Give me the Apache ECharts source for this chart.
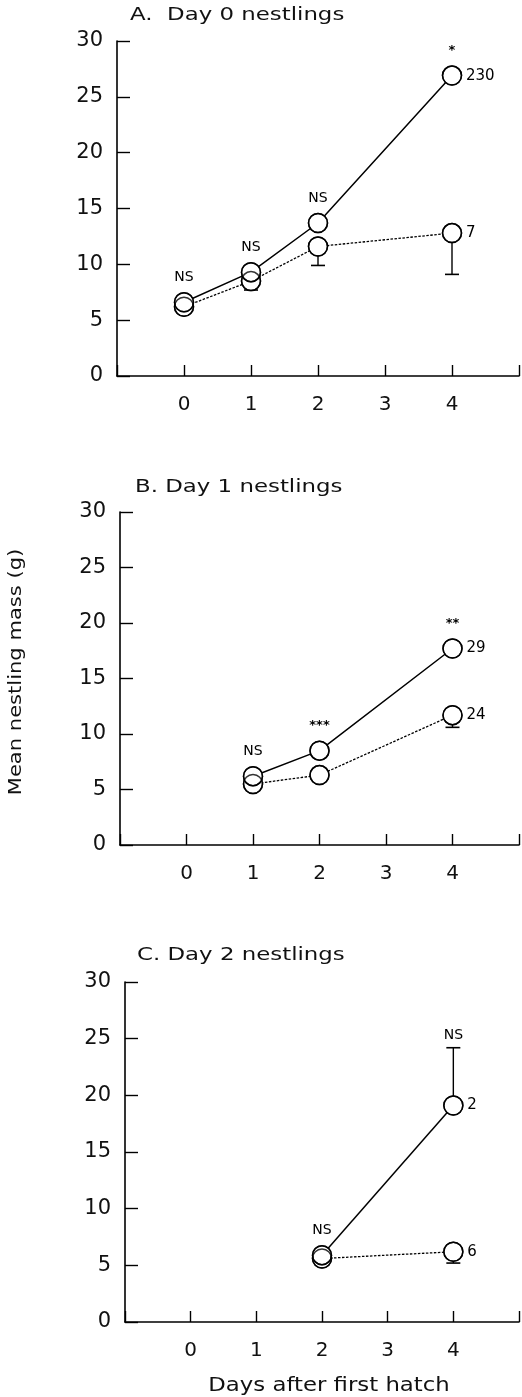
<!DOCTYPE html>
<html>
<head>
<meta charset="utf-8">
<script src="https://cdn.jsdelivr.net/npm/echarts@6/dist/echarts.min.js"></script>
<style>
html,body{margin:0;padding:0;background:#fff;}
#chart{width:522px;height:1397px;}
</style>
</head>
<body>
<div id="chart"></div>
<script>
// ---------- DATA ----------
const panelTitles = ['A.  Day 0 nestlings', 'B. Day 1 nestlings', 'C. Day 2 nestlings'];
const xTickLabels = ['0', '1', '2', '3', '4'];
const yAxisName = 'Mean nestling mass (g)';
const xAxisName = 'Days after first hatch';

// Panel A (Day 0 nestlings)
const aDays = [0, 1, 2, 4];
const aSolid = [6.6, 9.3, 13.7, 26.9];
const aSolidErrHigh = [null, null, null, null];
const aDotted = [6.2, 8.5, 11.6, 12.8];
const aDottedErrLow = [null, 7.7, 9.9, 9.1];
const aSig = ['NS', 'NS', 'NS', '*'];
const aN = ['230', '7'];

// Panel B (Day 1 nestlings)
const bDays = [1, 2, 4];
const bSolid = [6.2, 8.5, 17.7];
const bSolidErrHigh = [null, null, null];
const bDotted = [5.5, 6.3, 11.7];
const bDottedErrLow = [null, null, 10.6];
const bSig = ['NS', '***', '**'];
const bN = ['29', '24'];

// Panel C (Day 2 nestlings)
const cDays = [2, 4];
const cSolid = [5.9, 19.1];
const cSolidErrHigh = [null, 24.2];
const cDotted = [5.6, 6.2];
const cDottedErrLow = [null, 5.2];
const cSig = ['NS', 'NS'];
const cN = ['2', '6'];

// ---------- BUILD ----------
const FONT = 'DejaVu Sans';
const panels = [
  {days: aDays, solid: aSolid, solidHi: aSolidErrHigh, dotted: aDotted, dottedLo: aDottedErrLow, sig: aSig, n: aN},
  {days: bDays, solid: bSolid, solidHi: bSolidErrHigh, dotted: bDotted, dottedLo: bDottedErrLow, sig: bSig, n: bN},
  {days: cDays, solid: cSolid, solidHi: cSolidErrHigh, dotted: cDotted, dottedLo: cDottedErrLow, sig: cSig, n: cN}
];
const gridBoxes = [
  {left: 117, top: 41, width: 402, height: 335},
  {left: 120, top: 512, width: 402, height: 333},
  {left: 125, top: 982, width: 405, height: 340}
];
const titlePos = [[130, 15], [135, 487], [137, 955]];

const grid = [], xAxis = [], yAxis = [], series = [], graphic = [];

panels.forEach((p, i) => {
  grid.push(Object.assign({containLabel: false}, gridBoxes[i]));
  xAxis.push({
    type: 'value', gridIndex: i, min: -1, max: 5, interval: 1,
    axisLine: {show: true, onZero: false, lineStyle: {color: '#000', width: 1.6}},
    axisTick: {show: true, inside: true, length: 11, lineStyle: {color: '#000', width: 1.4}},
    axisLabel: {
      show: true, margin: 19, color: '#111', fontFamily: FONT, fontSize: 20,
      formatter: v => (v >= 0 && v <= 4) ? xTickLabels[v] : ''
    },
    splitLine: {show: false}
  });
  yAxis.push({
    type: 'value', gridIndex: i, min: 0, max: 30, interval: 5,
    axisLine: {show: true, onZero: false, lineStyle: {color: '#000', width: 1.6}},
    axisTick: {show: true, inside: true, length: 13, lineStyle: {color: '#000', width: 1.4}},
    axisLabel: {show: true, margin: 14, color: '#111', fontFamily: FONT, fontSize: 21},
    splitLine: {show: false}
  });

  const solidData = p.days.map((d, k) => [d, p.solid[k]]);
  const dottedData = p.days.map((d, k) => [d, p.dotted[k]]);

  // error bars (drawn first, underneath circles)
  const errData = [];
  p.days.forEach((d, k) => {
    if (p.solidHi[k] != null) errData.push([d, p.solid[k], p.solidHi[k]]);
    if (p.dottedLo[k] != null) errData.push([d, p.dotted[k], p.dottedLo[k]]);
  });
  series.push({
    type: 'custom', xAxisIndex: i, yAxisIndex: i, z: 1, silent: true,
    data: errData,
    renderItem: (params, api) => {
      const a = api.coord([api.value(0), api.value(1)]);
      const b = api.coord([api.value(0), api.value(2)]);
      return {
        type: 'group',
        children: [
          {type: 'line', shape: {x1: a[0], y1: a[1], x2: b[0], y2: b[1]}, style: {stroke: '#000', lineWidth: 1.4}},
          {type: 'line', shape: {x1: b[0] - 7, y1: b[1], x2: b[0] + 7, y2: b[1]}, style: {stroke: '#000', lineWidth: 1.6}}
        ]
      };
    }
  });

  // lines with white-filled circles (mask line ends)
  series.push({
    type: 'line', xAxisIndex: i, yAxisIndex: i, z: 2, data: dottedData,
    symbol: 'circle', symbolSize: 19, showSymbol: true,
    lineStyle: {color: '#000', width: 1.3, type: [2.5, 1.5]},
    itemStyle: {color: '#fff', borderColor: '#000', borderWidth: 1.5},
    animation: false
  });
  series.push({
    type: 'line', xAxisIndex: i, yAxisIndex: i, z: 3, data: solidData,
    symbol: 'circle', symbolSize: 19, showSymbol: true,
    lineStyle: {color: '#000', width: 1.5},
    itemStyle: {color: '#fff', borderColor: '#000', borderWidth: 1.5},
    animation: false
  });
  // ring outlines on top so overlapping circles both show
  series.push({
    type: 'scatter', xAxisIndex: i, yAxisIndex: i, z: 4, silent: true,
    data: dottedData.concat(solidData),
    symbol: 'circle', symbolSize: 19,
    itemStyle: {color: 'rgba(0,0,0,0)', borderColor: '#000', borderWidth: 1.5},
    animation: false
  });

  // significance labels
  series.push({
    type: 'custom', xAxisIndex: i, yAxisIndex: i, z: 5, silent: true,
    data: solidData,
    renderItem: (params, api) => {
      const k = params.dataIndex;
      const hi = p.solidHi[k];
      const top = hi != null ? hi : p.solid[k];
      const pt = api.coord([p.days[k], top]);
      const off = hi != null ? 12 : 25;
      return {
        type: 'text',
        style: {
          text: p.sig[k], x: pt[0], y: pt[1] - off,
          align: 'center', verticalAlign: 'middle',
          font: (p.sig[k].indexOf('*') >= 0 ? 'bold 13px ' : '14px ') + FONT, fill: '#000'
        }
      };
    }
  });

  // sample size labels at last day
  const last = p.days.length - 1;
  series.push({
    type: 'custom', xAxisIndex: i, yAxisIndex: i, z: 5, silent: true,
    data: [[p.days[last], p.solid[last]], [p.days[last], p.dotted[last]]],
    renderItem: (params, api) => {
      const pt = api.coord([api.value(0), api.value(1)]);
      return {
        type: 'text',
        style: {
          text: p.n[params.dataIndex], x: pt[0] + 14, y: pt[1],
          align: 'left', verticalAlign: 'middle',
          font: '15px ' + FONT, fill: '#000'
        }
      };
    }
  });

  graphic.push({
    type: 'text', x: titlePos[i][0], y: titlePos[i][1], scaleX: 1.27,
    style: {text: panelTitles[i], font: '18px ' + FONT, fill: '#111', align: 'left', verticalAlign: 'middle'}
  });
});

graphic.push({
  type: 'text', x: 16, y: 672, rotation: Math.PI / 2, scaleX: 1.17,
  style: {text: yAxisName, font: '18px ' + FONT, fill: '#111', align: 'center', verticalAlign: 'middle'}
});
graphic.push({
  type: 'text', x: 329, y: 1386, scaleX: 1.2,
  style: {text: xAxisName, font: '19px ' + FONT, fill: '#111', align: 'center', verticalAlign: 'middle'}
});

const chart = echarts.init(document.getElementById('chart'), null, {renderer: 'canvas'});
chart.setOption({
  backgroundColor: '#fff',
  animation: false,
  grid, xAxis, yAxis, series, graphic
});
</script>
</body>
</html>
